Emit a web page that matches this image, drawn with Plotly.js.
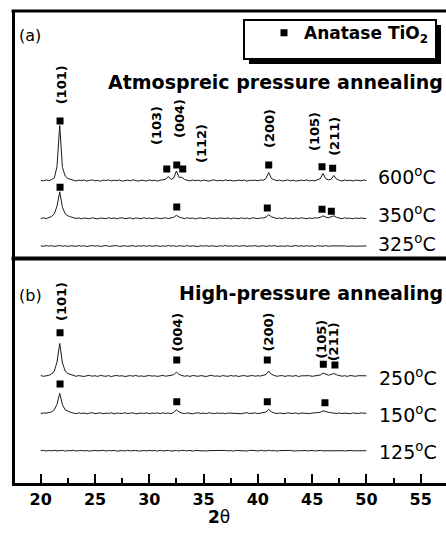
<!DOCTYPE html>
<html>
<head>
<meta charset="utf-8">
<script src="https://cdn.plot.ly/plotly-3.0.1.min.js"></script>
<style>html,body{margin:0;padding:0;overflow:hidden;background:#fff}</style>
</head>
<body>
<div id="chart" style="width:446px;height:535px"></div>
<script>
// ---- data (2-theta grid, degrees) ----
const twoTheta = [20,20.25,20.5,20.75,21,21.25,21.5,21.75,22,22.25,22.5,22.75,23,23.25,23.5,23.75,24,24.25,24.5,24.75,25,25.25,25.5,25.75,26,26.25,26.5,26.75,27,27.25,27.5,27.75,28,28.25,28.5,28.75,29,29.25,29.5,29.75,30,30.25,30.5,30.75,31,31.25,31.5,31.75,32,32.25,32.5,32.75,33,33.25,33.5,33.75,34,34.25,34.5,34.75,35,35.25,35.5,35.75,36,36.25,36.5,36.75,37,37.25,37.5,37.75,38,38.25,38.5,38.75,39,39.25,39.5,39.75,40,40.25,40.5,40.75,41,41.25,41.5,41.75,42,42.25,42.5,42.75,43,43.25,43.5,43.75,44,44.25,44.5,44.75,45,45.25,45.5,45.75,46,46.25,46.5,46.75,47,47.25,47.5,47.75,48,48.25,48.5,48.75,49,49.25,49.5,49.75,50];

// panel (a): atmospheric pressure annealing (intensity, arb. units)
const I600 = [0.3,-0.4,0.6,-0.2,1.0,2.5,14,55,13,4.5,
2.0,0.9,0.2,-0.5,0.4,-0.1,0.6,-0.6,0.2,0.5,
-0.3,0.1,-0.7,0.4,0.0,0.6,-0.4,0.3,-0.2,0.5,
-0.6,0.2,0.4,-0.3,0.7,-0.1,-0.5,0.3,0.1,-0.4,
0.5,-0.2,0.3,-0.6,0.2,0.6,1.2,4.0,1.0,2.5,
9.5,3.0,3.2,1.0,0.2,-0.4,0.5,-0.2,0.3,-0.5,
0.4,0.0,-0.6,0.3,0.5,-0.3,0.2,-0.4,0.6,-0.1,
0.3,-0.5,0.1,0.4,-0.2,0.5,-0.6,0.2,0.0,0.4,
-0.3,0.6,0.2,2.0,8.0,2.0,0.8,-0.2,0.4,-0.5,
0.1,0.5,-0.3,0.3,-0.6,0.2,0.4,-0.1,0.6,-0.4,
0.2,-0.3,0.5,1.8,7.0,1.8,0.6,1.2,5.0,1.3,
0.2,-0.4,0.5,-0.2,0.3,-0.5,0.4,0.1,-0.3,0.5,
0.0];
const I350 = [-0.2,0.5,-0.3,0.6,1.8,4.5,12,26.5,11,4.5,
2.5,1.5,0.6,-0.2,0.4,-0.5,0.3,0.1,-0.4,0.5,
0.2,-0.6,0.3,0.0,-0.3,0.6,-0.2,0.4,-0.5,0.2,
0.5,-0.3,-0.1,0.4,-0.6,0.3,0.1,-0.4,0.6,-0.2,
0.3,-0.5,0.2,0.4,-0.3,0.1,0.5,-0.2,0.3,1.0,
3.0,1.2,0.4,-0.3,0.5,-0.1,0.3,-0.6,0.2,0.4,
-0.4,0.1,0.6,-0.3,0.2,-0.5,0.4,0.0,-0.2,0.5,
-0.6,0.3,0.1,-0.4,0.5,-0.2,0.3,-0.5,0.6,0.0,
-0.3,0.4,0.3,1.2,3.5,1.5,0.5,-0.2,0.3,-0.4,
0.6,-0.1,0.2,-0.5,0.4,-0.3,0.5,0.1,-0.4,0.3,
-0.2,0.5,0.3,1.0,2.5,1.2,0.6,1.5,2.5,1.0,
0.3,-0.4,0.5,-0.1,0.2,-0.5,0.4,-0.2,0.3,0.1,
-0.3];
const I325 = [0.2,-0.3,0.4,-0.1,0.3,-0.4,0.1,0.5,-0.2,0.3,
-0.4,0.2,0.0,-0.3,0.4,-0.2,0.3,-0.5,0.1,0.4,
-0.1,0.3,-0.4,0.2,0.5,-0.3,0.1,-0.2,0.4,-0.4,
0.2,0.3,-0.3,0.0,0.4,-0.5,0.2,-0.1,0.3,-0.3,
0.4,-0.2,0.1,0.3,-0.4,0.2,-0.3,0.5,-0.1,0.2,
-0.4,0.3,0.0,-0.2,0.4,-0.3,0.2,0.1,-0.5,0.3,
-0.1,0.4,-0.3,0.2,0.0,-0.4,0.3,-0.2,0.5,-0.1,
0.2,-0.3,0.4,-0.2,0.1,0.3,-0.4,0.2,-0.1,0.4,
-0.3,0.1,0.3,-0.4,0.2,-0.1,0.4,-0.3,0.2,0.0,
-0.2,0.3,-0.4,0.1,0.4,-0.2,0.2,-0.3,0.3,-0.1,
0.2,-0.4,0.3,0.0,-0.2,0.4,-0.3,0.1,0.2,-0.2,
0.3,-0.1,0.1,-0.3,0.2,0.0,-0.2,0.1,-0.1,0.0,
0.1];

// panel (b): high-pressure annealing
const I250 = [0.4,-0.3,0.2,0.7,2.0,5.0,14,32.5,13,5.0,
2.5,1.5,0.5,-0.3,0.4,0.0,-0.5,0.3,0.5,-0.2,
0.3,-0.4,0.6,0.1,-0.3,0.4,-0.6,0.2,0.5,-0.1,
0.3,-0.5,0.2,0.4,-0.2,0.6,-0.3,0.1,-0.4,0.3,
0.5,-0.1,0.2,-0.4,0.3,0.6,-0.2,0.1,0.4,1.2,
4.0,1.5,0.5,-0.2,0.3,-0.4,0.5,0.1,-0.3,0.4,
0.2,-0.5,0.3,0.6,-0.2,0.1,-0.4,0.4,0.0,-0.3,
0.5,-0.1,0.3,-0.5,0.2,0.4,-0.3,0.1,0.5,-0.2,
0.3,0.0,0.5,1.5,5.0,1.8,0.6,-0.3,0.2,0.4,
-0.4,0.3,0.1,-0.2,0.5,-0.5,0.2,0.4,-0.1,0.3,
-0.3,0.2,0.6,1.0,3.0,2.0,0.8,1.5,2.5,1.2,
0.4,-0.2,0.3,-0.4,0.5,0.0,-0.3,0.3,0.1,-0.2,
0.2];
const I150 = [-0.3,0.4,0.1,0.5,1.5,3.5,9.0,20,8.5,3.5,
2.0,1.0,0.3,-0.4,0.5,-0.2,0.3,-0.5,0.2,0.6,
-0.3,0.1,0.4,-0.4,0.2,-0.1,0.5,-0.5,0.3,0.0,
-0.2,0.6,-0.3,0.2,0.4,-0.5,0.1,0.3,-0.2,0.5,
-0.4,0.2,0.0,0.4,-0.3,0.5,-0.1,0.3,-0.4,1.0,
3.5,1.3,0.2,-0.3,0.4,0.1,-0.5,0.3,0.5,-0.2,
0.2,-0.4,0.6,0.0,-0.3,0.4,-0.1,0.2,-0.5,0.3,
0.1,0.5,-0.3,0.2,-0.4,0.3,0.6,-0.2,0.0,0.4,
-0.3,0.2,0.5,1.2,4.0,1.5,0.4,-0.3,0.3,0.1,
-0.4,0.5,0.2,-0.2,0.4,-0.5,0.3,0.0,0.4,-0.3,
0.2,0.5,0.4,1.0,2.5,1.5,1.0,0.6,0.3,-0.2,
0.4,-0.3,0.2,0.0,-0.4,0.3,0.1,-0.2,0.4,-0.1,
0.0];
const I125 = [0.1,0.3,-0.3,0.2,-0.1,0.4,-0.2,0.0,0.3,-0.4,
0.2,-0.1,0.4,-0.3,0.1,0.3,-0.2,0.2,-0.4,0.1,
0.3,-0.2,0.0,0.4,-0.3,0.2,-0.1,0.3,-0.4,0.2,
0.1,-0.3,0.4,-0.2,0.0,0.3,-0.4,0.2,0.1,-0.2,
0.3,-0.1,0.2,-0.4,0.4,-0.2,0.1,0.3,-0.3,0.0,
0.2,-0.3,0.4,0.1,-0.2,0.3,-0.4,0.2,0.0,-0.1,
0.3,-0.3,0.1,0.2,-0.4,0.4,-0.1,0.0,0.3,-0.2,
0.2,-0.4,0.3,0.1,-0.2,0.2,-0.3,0.4,-0.1,0.1,
-0.3,0.3,0.0,-0.2,0.4,-0.1,0.2,-0.4,0.1,0.3,
-0.2,0.1,0.3,-0.3,0.2,0.0,-0.1,0.3,-0.2,0.1,
0.2,-0.3,0.1,0.3,-0.1,0.0,0.2,-0.2,0.1,-0.1,
0.2,0.0,-0.2,0.1,0.2,-0.1,0.0,0.1,-0.1,0.0,
0.0];

const tempsA = ['600', '350', '325'];
const tempsB = ['250', '150', '125'];
const offsetsA = [78, 40.2, 12.5];
const offsetsB = [107, 69.7, 32.3];

// anatase TiO2 reflection markers
const hklA = ['(101)', '(103)', '(004)', '(112)', '(200)', '(105)', '(211)'];
const mark600X = [21.78, 31.61, 32.53, 33.08, 41.0, 45.91, 46.89];
const mark600Y = [137.5, 89.5, 93.5, 89.5, 93.5, 91.8, 90.2];
const mark350X = [21.78, 32.53, 40.87, 45.91, 46.77];
const mark350Y = [71.2, 51.5, 50.5, 49.2, 47.2];
const hklB = ['(101)', '(004)', '(200)', '(105)', '(211)'];
const mark250X = [21.78, 32.53, 40.87, 46.03, 47.1];
const mark250Y = [150.3, 123, 123, 118.7, 118];
const mark150X = [21.78, 32.53, 40.87, 46.18];
const mark150Y = [99, 81.3, 81.3, 80.3];

// ---- build ----
const FONT = 'DejaVu Sans, Arial, sans-serif';
function shifted(arr, off) { return arr.map(v => v + off); }
const seriesA = [I600, I350, I325];
const seriesB = [I250, I150, I125];
const traces = [];
seriesA.forEach((s, k) => traces.push({
  x: twoTheta, y: shifted(s, offsetsA[k]), xaxis: 'x', yaxis: 'y', mode: 'lines',
  line: {color: '#1a1a1a', width: 1}, showlegend: false, hoverinfo: 'skip', name: tempsA[k] + ' °C'
}));
seriesB.forEach((s, k) => traces.push({
  x: twoTheta, y: shifted(s, offsetsB[k]), xaxis: 'x', yaxis: 'y2', mode: 'lines',
  line: {color: '#1a1a1a', width: 1}, showlegend: false, hoverinfo: 'skip', name: tempsB[k] + ' °C'
}));
const mk = {symbol: 'square', size: 7, color: '#000'};
traces.push({x: mark600X.concat(mark350X), y: mark600Y.concat(mark350Y), xaxis: 'x', yaxis: 'y',
  mode: 'markers', marker: mk, name: 'Anatase TiO<sub>2</sub>', showlegend: true});
traces.push({x: mark250X.concat(mark150X), y: mark250Y.concat(mark150Y), xaxis: 'x', yaxis: 'y2',
  mode: 'markers', marker: mk, name: 'Anatase TiO2 (b)', showlegend: false});

const ann = [];
// hkl labels
const hklPosA = [[21.87, 173.2], [30.62, 132.5], [32.74, 139.5], [34.76, 115.5], [41.03, 129.5], [45.17, 127.5], [47.0, 122.5]];
hklA.forEach((t, k) => ann.push({text: t, x: hklPosA[k][0], y: hklPosA[k][1], xref: 'x', yref: 'y',
  textangle: -90, showarrow: false, xanchor: 'center', yanchor: 'middle',
  font: {family: FONT, size: 13, weight: 'bold', color: '#000'}}));
const hklPosB = [[21.87, 181], [32.53, 151], [40.89, 151], [45.8, 144], [47.0, 141.5]];
hklB.forEach((t, k) => ann.push({text: t, x: hklPosB[k][0], y: hklPosB[k][1], xref: 'x', yref: 'y2',
  textangle: -90, showarrow: false, xanchor: 'center', yanchor: 'middle',
  font: {family: FONT, size: 13, weight: 'bold', color: '#000'}}));
// temperature labels
const tLabA = [82.2, 44.8, 15.2];
const tLabB = [106, 69.3, 32.2];
tempsA.forEach((t, k) => ann.push({text: t + '<sup>o</sup>C', x: 50.9, y: tLabA[k], xref: 'x', yref: 'y',
  showarrow: false, xanchor: 'left', yanchor: 'middle', font: {family: FONT, size: 19, color: '#000'}}));
tempsB.forEach((t, k) => ann.push({text: t + '<sup>o</sup>C', x: 51.0, y: tLabB[k], xref: 'x', yref: 'y2',
  showarrow: false, xanchor: 'left', yanchor: 'middle', font: {family: FONT, size: 19, color: '#000'}}));
// panel tags and titles
ann.push({text: '(a)', x: 0.004, y: 223.5, xref: 'paper', yref: 'y', showarrow: false, xanchor: 'left', yanchor: 'middle',
  font: {family: FONT, size: 16, color: '#000'}});
ann.push({text: '(b)', x: 0.004, y: 187.5, xref: 'paper', yref: 'y2', showarrow: false, xanchor: 'left', yanchor: 'middle',
  font: {family: FONT, size: 16, color: '#000'}});
ann.push({text: 'Atmospreic pressure annealing', x: 0.9977, y: 176.8, xref: 'paper', yref: 'y', showarrow: false,
  xanchor: 'right', yanchor: 'middle', font: {family: FONT, size: 19, weight: 'bold', color: '#000'}});
ann.push({text: 'High-pressure annealing', x: 0.9977, y: 190.3, xref: 'paper', yref: 'y2', showarrow: false,
  xanchor: 'right', yanchor: 'middle', font: {family: FONT, size: 19, weight: 'bold', color: '#000'}});
ann.push({text: '<b>2</b>θ', x: 36.42, y: -0.073, xref: 'x', yref: 'paper', showarrow: false,
  xanchor: 'center', yanchor: 'middle', font: {family: FONT, size: 17, color: '#000'}});

const DIV = 0.4756;
const layout = {
  width: 446, height: 535,
  margin: {l: 15, r: 0, t: 11, b: 52, pad: 0},
  paper_bgcolor: '#fff', plot_bgcolor: '#fff',
  showlegend: true,
  legend: {x: 0.5777, xanchor: 'left', y: 0.9528, yanchor: 'middle', bgcolor: 'rgba(0,0,0,0)', borderwidth: 0,
    font: {family: FONT, size: 17, weight: 'bold', color: '#000'}},
  xaxis: {
    range: [17.63, 57.33], anchor: 'y2', tick0: 20, dtick: 5,
    ticks: 'inside', ticklen: 9, tickwidth: 2, tickcolor: '#000',
    minor: {ticks: 'inside', ticklen: 5, tickwidth: 2, tickcolor: '#000', tick0: 20, dtick: 2.5, showgrid: false},
    showline: true, linewidth: 3, linecolor: '#000', showgrid: false, zeroline: false,
    tickfont: {family: FONT, size: 16, weight: 'bold', color: '#000'}
  },
  yaxis: {domain: [DIV, 1], range: [0, 247.5], showticklabels: false, ticks: '', showgrid: false, zeroline: false,
    showline: true, linewidth: 3, linecolor: '#000', anchor: 'x'},
  yaxis2: {domain: [0, DIV], range: [0, 224.5], showticklabels: false, ticks: '', showgrid: false, zeroline: false,
    showline: true, linewidth: 3, linecolor: '#000', anchor: 'x'},
  shapes: [
    {type: 'line', xref: 'paper', yref: 'paper', x0: -0.008, x1: 1.01, y0: 1, y1: 1, line: {color: '#000', width: 3}},
    {type: 'line', xref: 'paper', yref: 'paper', x0: -0.008, x1: 1.01, y0: DIV, y1: DIV, line: {color: '#000', width: 4}},
    {type: 'rect', xref: 'paper', yref: 'paper', x0: 0.5429, x1: 0.9884, y0: 0.8877, y1: 0.9703,
      fillcolor: '#000', line: {color: '#000', width: 0}, layer: 'above'},
    {type: 'rect', xref: 'paper', yref: 'paper', x0: 0.5313, x1: 0.9768, y0: 0.8983, y1: 0.9809,
      fillcolor: '#fff', line: {color: '#000', width: 2}, layer: 'above'}
  ],
  annotations: ann
};
Plotly.newPlot('chart', traces, layout, {displayModeBar: false, staticPlot: true});
</script>
</body>
</html>
